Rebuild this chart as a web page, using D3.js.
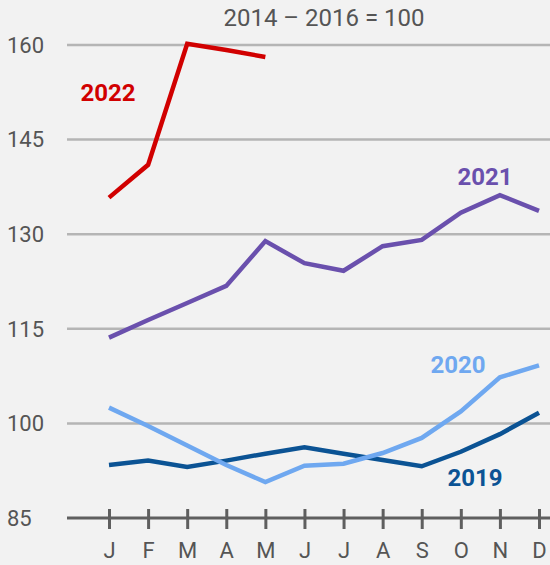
<!DOCTYPE html>
<html>
<head>
<meta charset="utf-8">
<script src="https://cdn.jsdelivr.net/npm/d3@7"></script>
<style>
  body { margin: 0; background: #f2f2f2; }
  svg { display: block; font-family: Roboto, "Liberation Sans", sans-serif; }
</style>
</head>
<body>
<div id="chart"></div>
<script>
var months = ["J", "F", "M", "A", "M", "J", "J", "A", "S", "O", "N", "D"];
var yTicks = [85, 100, 115, 130, 145, 160];

var years = ["2019", "2020", "2021", "2022"];
var values2019 = [93.4, 94.1, 93.1, 94.1, 95.2, 96.2, 95.2, 94.2, 93.2, 95.5, 98.3, 101.7];
var values2020 = [102.5, 99.6, 96.5, 93.4, 90.7, 93.3, 93.6, 95.3, 97.7, 101.9, 107.3, 109.2];
var values2021 = [113.6, 116.4, 119.1, 121.8, 128.9, 125.4, 124.2, 128.1, 129.1, 133.4, 136.2, 133.7];
var values2022 = [135.8, 141.0, 160.2, 159.2, 158.1];
var colors = ["#0b5394", "#6fa8f0", "#6a50ad", "#d10000"];

var width = 550, height = 565;

var svg = d3.select("#chart")
  .append("svg")
  .attr("width", width)
  .attr("height", height);

svg.append("rect")
  .attr("width", width)
  .attr("height", height)
  .attr("fill", "#f2f2f2");

var x = d3.scalePoint()
  .domain(d3.range(12))
  .range([109, 539]);

var y = d3.scaleLinear()
  .domain([85, 160])
  .range([518, 45]);

// gridlines
svg.append("g")
  .selectAll("line")
  .data(yTicks.slice(1))
  .enter().append("line")
    .attr("x1", 67)
    .attr("x2", width)
    .attr("y1", function(d) { return y(d); })
    .attr("y2", function(d) { return y(d); })
    .attr("stroke", "#b5b5b5")
    .attr("stroke-width", 2.5);

// y labels
svg.append("g")
  .selectAll("text")
  .data(yTicks)
  .enter().append("text")
    .attr("x", 7)
    .attr("y", function(d) { return y(d); })
    .attr("dy", "0.35em")
    .attr("font-size", "22px")
    .attr("fill", "#555")
    .text(function(d) { return d; });

// x axis
var xAxis = d3.axisBottom(x)
  .tickSize(0)
  .tickPadding(0)
  .tickFormat(function(i) { return months[i]; });

var gx = svg.append("g")
  .attr("transform", "translate(0," + y(85) + ")")
  .call(xAxis);

gx.select(".domain").remove();
gx.append("line")
  .attr("x1", 67)
  .attr("x2", width)
  .attr("stroke", "#5f5f5f")
  .attr("stroke-width", 3);

gx.selectAll(".tick").append("line")
  .attr("y1", -9)
  .attr("y2", 11)
  .attr("stroke", "#5f5f5f")
  .attr("stroke-width", 3);

gx.selectAll(".tick text")
  .attr("y", 40)
  .attr("dy", 0)
  .attr("font-size", "22px")
  .attr("font-family", "Roboto, sans-serif")
  .attr("fill", "#555");

// lines
var line = d3.line()
  .x(function(d, i) { return x(i); })
  .y(function(d) { return y(d); });

var series = [values2019, values2020, values2021, values2022];

svg.append("g")
  .selectAll("path")
  .data(series)
  .enter().append("path")
    .attr("d", line)
    .attr("fill", "none")
    .attr("stroke", function(d, i) { return colors[i]; })
    .attr("stroke-width", 4.5);

// series labels
var labelPos = [[475, 478], [458, 365], [485, 177], [108, 93]];

svg.append("g")
  .selectAll("text")
  .data(years)
  .enter().append("text")
    .attr("x", function(d, i) { return labelPos[i][0]; })
    .attr("y", function(d, i) { return labelPos[i][1]; })
    .attr("dy", "0.35em")
    .attr("text-anchor", "middle")
    .attr("font-size", "24px")
    .attr("font-weight", "bold")
    .attr("fill", function(d, i) { return colors[i]; })
    .text(function(d) { return d; });

// title
svg.append("text")
  .attr("x", 324)
  .attr("y", 18)
  .attr("dy", "0.35em")
  .attr("text-anchor", "middle")
  .attr("font-size", "24px")
  .attr("fill", "#555")
  .text("2014 \u2013 2016 = 100");
</script>
</body>
</html>
